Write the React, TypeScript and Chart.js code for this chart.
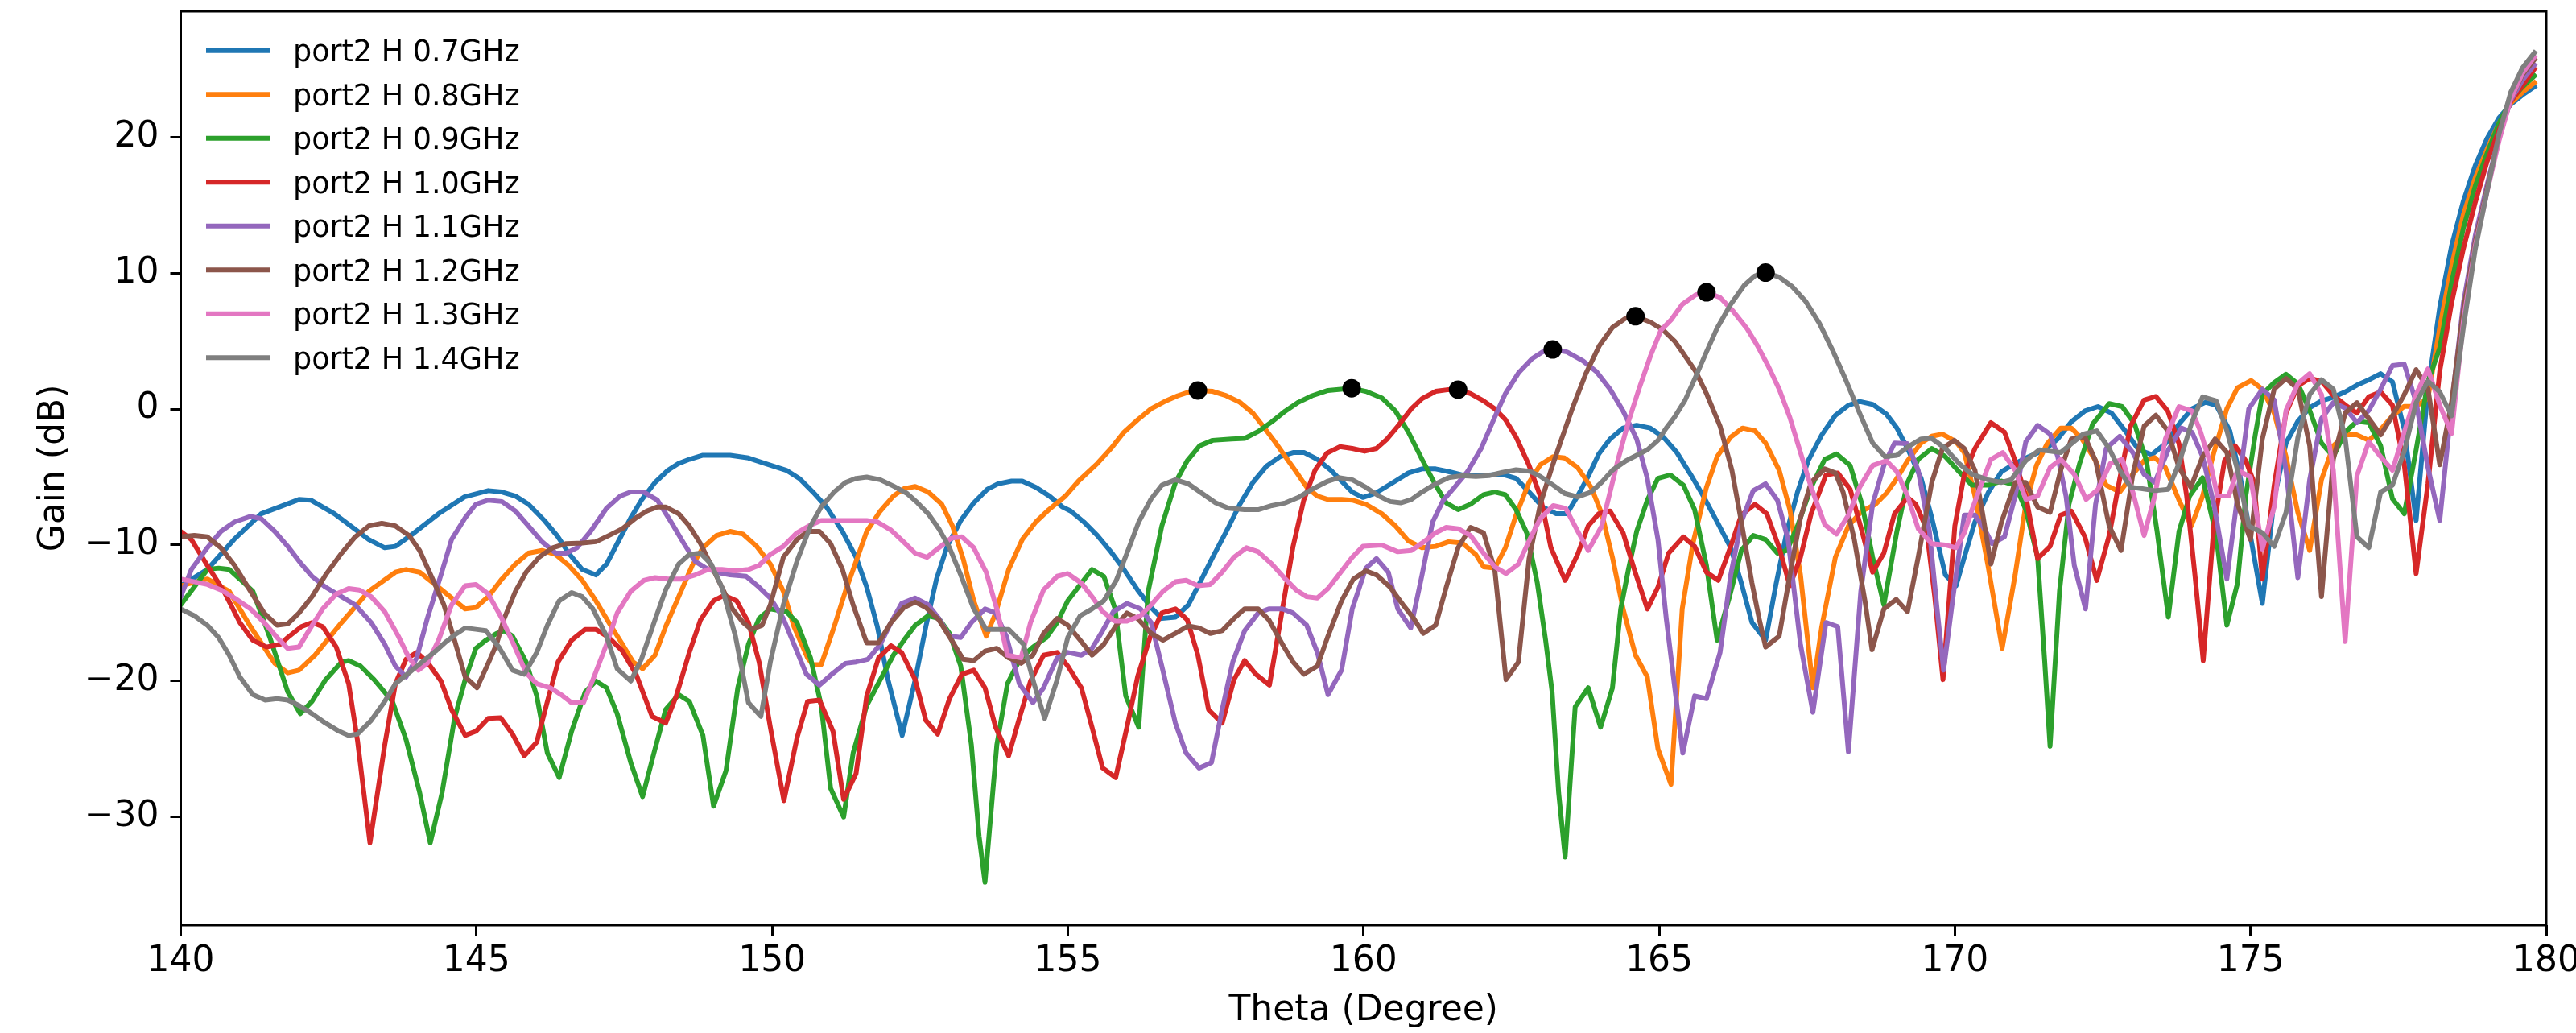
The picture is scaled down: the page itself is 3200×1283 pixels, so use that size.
import React, { useEffect, useRef } from 'react';
import { Chart, registerables } from 'chart.js';

Chart.register(...registerables);

const SERIES_LABELS = [
  'port2 H 0.7GHz', 'port2 H 0.8GHz', 'port2 H 0.9GHz', 'port2 H 1.0GHz',
  'port2 H 1.1GHz', 'port2 H 1.2GHz', 'port2 H 1.3GHz', 'port2 H 1.4GHz',
];
const COLORS = ['#1f77b4', '#ff7f0e', '#2ca02c', '#d62728', '#9467bd', '#8c564b', '#e377c2', '#7f7f7f'];
const X_TICKS = [140, 145, 150, 155, 160, 165, 170, 175, 180];
const Y_TICKS = [-30, -20, -10, 0, 10, 20];
const X_TITLE = 'Theta (Degree)';
const Y_TITLE = 'Gain (dB)';

// [theta (deg), gain (dB)]
const gain07: [number, number][] = [
  [140.0, -13.0], [140.45, -11.8], [140.9, -9.6], [141.36, -7.7], [142.0, -6.65], [142.2, -6.7], [142.6, -7.7],
  [143.18, -9.6], [143.45, -10.2], [143.63, -10.1], [143.95, -9.1], [144.36, -7.7], [144.8, -6.46], [145.2, -6.0],
  [145.43, -6.1], [145.66, -6.4], [145.88, -7.0], [146.15, -8.2], [146.38, -9.4], [146.56, -10.6], [146.79, -11.8],
  [147.02, -12.2], [147.2, -11.4], [147.38, -9.9], [147.61, -8.0], [147.79, -6.7], [148.02, -5.4], [148.24, -4.5],
  [148.42, -4.0], [148.6, -3.7], [148.83, -3.4], [149.01, -3.4], [149.29, -3.4], [149.6, -3.6], [149.88, -4.0],
  [150.24, -4.5], [150.46, -5.1], [150.69, -6.1], [150.92, -7.2], [151.19, -9.0], [151.42, -10.9], [151.6, -13.1],
  [151.78, -16.0], [151.96, -19.9], [152.2, -24.0], [152.42, -19.9], [152.6, -16.0], [152.78, -12.5], [152.96, -10.1],
  [153.19, -8.2], [153.41, -6.9], [153.64, -5.9], [153.82, -5.5], [154.05, -5.3], [154.23, -5.3], [154.46, -5.75],
  [154.69, -6.4], [154.91, -7.2], [155.05, -7.5], [155.27, -8.3], [155.5, -9.3], [155.73, -10.5], [155.95, -11.8],
  [156.18, -13.3], [156.41, -14.6], [156.59, -15.4], [156.82, -15.3], [157.04, -14.4], [157.23, -12.8], [157.45, -10.9],
  [157.68, -9.0], [157.91, -7.0], [158.13, -5.4], [158.36, -4.2], [158.59, -3.5], [158.81, -3.2], [159.0, -3.2],
  [159.22, -3.7], [159.45, -4.5], [159.63, -5.3], [159.81, -6.1], [159.99, -6.5], [160.2, -6.2], [160.54, -5.3],
  [160.76, -4.7], [160.99, -4.4], [161.22, -4.4], [161.44, -4.6], [161.67, -4.85], [161.9, -4.9], [162.12, -4.85],
  [162.35, -4.8], [162.58, -5.1], [162.8, -6.1], [163.03, -7.2], [163.26, -7.7], [163.44, -7.7], [163.62, -6.4],
  [163.8, -4.95], [163.98, -3.3], [164.17, -2.2], [164.39, -1.4], [164.62, -1.2], [164.85, -1.4], [165.07, -2.06],
  [165.3, -3.2], [165.53, -4.8], [165.76, -6.5], [165.98, -8.3], [166.21, -10.2], [166.39, -12.8], [166.57, -15.7],
  [166.8, -17.0], [166.98, -12.8], [167.16, -9.0], [167.34, -6.1], [167.52, -3.8], [167.75, -1.9], [167.98, -0.46],
  [168.2, 0.28], [168.39, 0.56], [168.61, 0.34], [168.84, -0.36], [169.02, -1.4], [169.2, -2.9], [169.43, -5.1],
  [169.61, -8.0], [169.84, -12.2], [170.02, -13.0], [170.16, -10.9], [170.34, -8.3], [170.57, -6.1], [170.79, -4.6],
  [171.02, -4.0], [171.25, -3.5], [171.52, -3.0], [171.74, -2.2], [171.97, -0.94], [172.2, -0.14], [172.42, 0.18],
  [172.65, -0.3], [172.88, -1.6], [173.11, -3.0], [173.33, -3.35], [173.56, -2.55], [173.79, -1.1], [174.01, 0.02],
  [174.24, 0.5], [174.42, 0.28], [174.65, -1.6], [174.83, -5.1], [175.01, -9.6], [175.2, -14.3], [175.4, -6.6],
  [175.6, -2.5], [175.8, -0.9], [176.0, 0.1], [176.2, 0.6], [176.4, 0.87], [176.6, 1.26], [176.8, 1.76],
  [177.0, 2.15], [177.2, 2.6], [177.4, 2.0], [177.6, -1.5], [177.8, -8.2], [178.0, 1.5], [178.2, 7.5],
  [178.4, 12.0], [178.6, 15.3], [178.8, 17.9], [179.0, 19.9], [179.2, 21.4], [179.4, 22.4], [179.6, 23.1], [179.8, 23.7],
];

const gain08: [number, number][] = [
  [140.0, -13.0], [140.45, -12.5], [140.82, -13.4], [141.18, -16.0], [141.59, -18.7], [141.81, -19.4], [142.0, -19.2],
  [142.27, -18.1], [142.72, -15.7], [143.18, -13.4], [143.63, -12.0], [143.81, -11.8], [144.04, -12.0], [144.36, -13.1],
  [144.81, -14.7], [144.99, -14.6], [145.2, -13.8], [145.43, -12.5], [145.66, -11.4], [145.88, -10.6], [146.11, -10.4],
  [146.34, -10.7], [146.56, -11.5], [146.79, -12.6], [147.02, -14.1], [147.24, -15.7], [147.47, -17.3], [147.65, -18.6],
  [147.81, -19.1], [148.02, -18.1], [148.2, -16.0], [148.42, -13.8], [148.65, -11.5], [148.83, -10.2], [149.06, -9.3],
  [149.29, -9.0], [149.51, -9.2], [149.74, -10.1], [149.97, -11.4], [150.19, -13.4], [150.37, -16.0], [150.6, -18.3],
  [150.69, -18.8], [150.83, -18.8], [151.05, -16.0], [151.24, -13.4], [151.42, -11.2], [151.6, -9.0], [151.83, -7.5],
  [152.05, -6.4], [152.23, -5.85], [152.42, -5.7], [152.64, -6.1], [152.87, -7.0], [153.05, -8.6], [153.23, -11.0],
  [153.41, -14.1], [153.62, -16.7], [153.78, -15.0], [154.0, -11.8], [154.23, -9.6], [154.46, -8.3], [154.68, -7.4],
  [154.96, -6.4], [155.18, -5.3], [155.5, -4.0], [155.73, -2.9], [155.95, -1.7], [156.18, -0.8], [156.41, 0.02],
  [156.64, 0.56], [156.86, 0.98], [157.04, 1.24], [157.2, 1.37], [157.45, 1.3], [157.68, 0.98], [157.91, 0.5],
  [158.13, -0.3], [158.31, -1.3], [158.5, -2.4], [158.68, -3.5], [158.86, -4.6], [159.04, -5.75], [159.22, -6.4],
  [159.4, -6.65], [159.63, -6.65], [159.81, -6.7], [160.04, -7.0], [160.31, -7.7], [160.54, -8.6], [160.76, -9.7],
  [160.99, -10.2], [161.22, -10.1], [161.44, -9.76], [161.67, -9.86], [161.9, -10.7], [162.03, -11.6], [162.22, -11.7],
  [162.4, -10.2], [162.58, -7.8], [162.8, -5.4], [162.99, -4.1], [163.21, -3.5], [163.4, -3.6], [163.62, -4.3],
  [163.85, -5.75], [164.03, -7.7], [164.21, -10.9], [164.39, -14.7], [164.6, -18.1], [164.8, -19.7], [164.98, -25.0],
  [165.2, -27.6], [165.39, -14.7], [165.57, -9.9], [165.8, -5.75], [165.98, -3.5], [166.21, -2.06], [166.41, -1.4],
  [166.62, -1.6], [166.8, -2.5], [167.03, -4.5], [167.21, -7.4], [167.39, -12.2], [167.6, -20.5], [167.75, -16.0],
  [167.98, -10.9], [168.2, -8.6], [168.43, -7.5], [168.66, -7.0], [168.84, -6.2], [169.02, -5.1], [169.2, -3.8],
  [169.43, -2.5], [169.61, -2.0], [169.79, -1.84], [170.02, -2.4], [170.16, -3.2], [170.34, -6.4], [170.56, -11.5],
  [170.8, -17.6], [171.02, -12.2], [171.2, -7.0], [171.38, -4.15], [171.56, -2.55], [171.79, -1.4], [171.97, -1.4],
  [172.15, -2.2], [172.38, -3.8], [172.56, -5.6], [172.79, -6.1], [173.01, -4.8], [173.2, -3.8], [173.38, -3.57],
  [173.56, -4.3], [173.79, -6.7], [174.0, -8.6], [174.19, -6.4], [174.38, -3.2], [174.6, 0.02], [174.78, 1.56],
  [175.01, 2.1], [175.2, 1.46], [175.4, -0.3], [175.6, -3.5], [175.8, -7.6], [176.0, -10.4], [176.2, -5.2],
  [176.4, -2.7], [176.6, -1.9], [176.8, -1.9], [177.0, -2.3], [177.2, -1.5], [177.4, -0.5], [177.6, 0.2],
  [177.8, 0.2], [178.0, 0.8], [178.2, 6.0], [178.4, 10.5], [178.6, 14.3], [178.8, 17.0], [179.0, 19.1],
  [179.2, 21.0], [179.4, 22.5], [179.6, 23.3], [179.8, 24.0],
];

const gain09: [number, number][] = [
  [140.0, -14.4], [140.45, -11.8], [140.64, -11.7], [140.82, -11.8], [141.0, -12.5], [141.22, -13.4], [141.5, -16.7],
  [141.81, -20.8], [142.02, -22.4], [142.22, -21.5], [142.45, -19.9], [142.72, -18.6], [142.84, -18.5], [143.04, -18.9],
  [143.27, -19.9], [143.58, -21.5], [143.81, -24.3], [144.04, -28.2], [144.22, -31.9], [144.42, -28.2], [144.63, -22.75],
  [144.81, -19.9], [144.99, -17.6], [145.16, -17.0], [145.34, -16.5], [145.47, -16.3], [145.61, -16.7], [145.84, -18.6],
  [146.02, -21.1], [146.2, -25.3], [146.4, -27.1], [146.61, -23.7], [146.84, -20.8], [147.02, -20.0], [147.2, -20.5],
  [147.38, -22.4], [147.61, -26.0], [147.81, -28.5], [148.02, -25.0], [148.2, -22.1], [148.42, -21.0], [148.6, -21.5],
  [148.83, -24.0], [149.01, -29.2], [149.22, -26.6], [149.42, -20.5], [149.6, -17.3], [149.78, -15.4], [149.97, -14.7],
  [150.24, -14.9], [150.42, -15.7], [150.65, -18.3], [150.83, -21.8], [150.99, -27.9], [151.21, -30.0], [151.37, -25.3],
  [151.6, -21.8], [151.83, -19.9], [152.05, -18.1], [152.23, -17.0], [152.42, -15.9], [152.64, -15.2], [152.82, -15.4],
  [153.0, -16.5], [153.19, -18.9], [153.37, -24.7], [153.5, -31.4], [153.6, -34.8], [153.8, -24.7], [153.98, -20.2],
  [154.19, -18.4], [154.41, -17.5], [154.64, -16.8], [154.82, -15.7], [155.0, -14.1], [155.23, -12.8], [155.41, -11.8],
  [155.61, -12.3], [155.8, -14.7], [155.98, -21.1], [156.2, -23.4], [156.36, -13.4], [156.59, -8.6], [156.82, -5.4],
  [157.02, -3.8], [157.23, -2.7], [157.45, -2.3], [157.77, -2.2], [157.99, -2.16], [158.22, -1.65], [158.45, -0.94],
  [158.68, -0.14], [158.9, 0.5], [159.13, 0.98], [159.4, 1.37], [159.8, 1.53], [160.04, 1.3], [160.31, 0.82],
  [160.54, -0.14], [160.76, -1.7], [160.99, -3.7], [161.22, -5.6], [161.4, -6.9], [161.6, -7.4], [161.81, -7.0],
  [162.03, -6.3], [162.22, -6.1], [162.4, -6.3], [162.58, -7.4], [162.76, -9.1], [162.94, -12.8], [163.08, -17.0],
  [163.19, -20.8], [163.3, -28.2], [163.41, -32.95], [163.58, -21.9], [163.8, -20.5], [164.01, -23.4], [164.21, -20.5],
  [164.35, -14.7], [164.48, -11.8], [164.62, -9.0], [164.8, -6.7], [164.98, -5.1], [165.19, -4.85], [165.41, -5.6],
  [165.6, -7.4], [165.8, -11.5], [165.98, -17.0], [166.19, -13.8], [166.39, -10.4], [166.59, -9.3], [166.8, -9.6],
  [167.0, -10.6], [167.16, -10.4], [167.34, -8.6], [167.57, -5.75], [167.8, -3.7], [168.0, -3.3], [168.23, -4.15],
  [168.43, -7.0], [168.61, -10.9], [168.8, -14.4], [169.02, -9.0], [169.2, -5.4], [169.38, -3.7], [169.61, -2.9],
  [169.84, -3.5], [170.07, -4.6], [170.29, -5.6], [170.56, -5.6], [170.79, -5.3], [171.02, -5.6], [171.2, -7.4],
  [171.4, -10.9], [171.52, -18.6], [171.61, -24.8], [171.77, -13.4], [171.93, -7.0], [172.11, -4.0], [172.33, -1.1],
  [172.61, 0.4], [172.83, 0.18], [173.04, -1.1], [173.24, -3.8], [173.42, -9.0], [173.61, -15.3], [173.79, -9.0],
  [173.97, -6.4], [174.19, -5.05], [174.42, -9.3], [174.6, -15.9], [174.78, -12.8], [174.92, -6.4], [175.08, -1.9],
  [175.2, 1.07], [175.4, 1.95], [175.6, 2.56], [175.8, 1.85], [176.0, -0.1], [176.2, -2.5], [176.4, -3.5],
  [176.6, -1.7], [176.8, -0.9], [177.0, -1.0], [177.2, -2.7], [177.4, -6.6], [177.6, -7.7], [177.8, -3.0],
  [178.0, 2.0], [178.2, 4.5], [178.4, 9.3], [178.6, 13.3], [178.8, 16.4], [179.0, 18.8], [179.2, 21.0],
  [179.4, 22.7], [179.6, 23.7], [179.8, 24.5],
];

const gain10: [number, number][] = [
  [140.0, -9.0], [140.18, -9.6], [140.45, -11.5], [140.73, -13.4], [141.0, -15.7], [141.22, -17.0], [141.45, -17.5],
  [141.68, -17.3], [141.81, -16.8], [142.04, -16.0], [142.22, -15.7], [142.4, -16.0], [142.63, -17.5], [142.84, -20.2],
  [142.99, -24.4], [143.2, -31.9], [143.45, -24.7], [143.63, -20.2], [143.81, -18.4], [143.99, -17.9], [144.17, -18.6],
  [144.4, -20.0], [144.58, -22.1], [144.81, -24.0], [144.99, -23.7], [145.2, -22.75], [145.41, -22.7], [145.61, -23.9],
  [145.81, -25.5], [146.02, -24.5], [146.2, -21.5], [146.38, -18.6], [146.61, -17.0], [146.84, -16.2], [147.02, -16.2],
  [147.24, -16.8], [147.47, -17.8], [147.7, -19.5], [147.97, -22.6], [148.2, -23.1], [148.38, -21.1], [148.6, -17.9],
  [148.79, -15.5], [149.01, -14.1], [149.19, -13.7], [149.4, -14.1], [149.6, -15.7], [149.78, -18.6], [149.97, -23.4],
  [150.2, -28.8], [150.42, -24.2], [150.6, -21.5], [150.8, -21.4], [151.03, -23.7], [151.21, -28.7], [151.42, -26.8],
  [151.6, -21.1], [151.8, -18.3], [152.01, -17.4], [152.19, -17.9], [152.42, -19.9], [152.6, -22.9], [152.8, -23.9],
  [153.0, -21.3], [153.21, -19.5], [153.41, -19.2], [153.6, -20.5], [153.78, -23.4], [154.0, -25.5], [154.18, -22.75],
  [154.37, -20.0], [154.59, -18.1], [154.82, -17.9], [155.0, -18.9], [155.23, -20.5], [155.41, -23.4], [155.59, -26.4],
  [155.81, -27.1], [156.0, -23.4], [156.18, -19.7], [156.39, -16.8], [156.59, -15.0], [156.82, -14.7], [157.02, -15.5],
  [157.2, -18.1], [157.38, -22.1], [157.61, -23.1], [157.81, -19.9], [157.99, -18.5], [158.18, -19.5], [158.41, -20.3],
  [158.63, -14.7], [158.81, -10.1], [158.99, -6.7], [159.18, -4.5], [159.38, -3.25], [159.6, -2.77], [159.81, -2.9],
  [160.02, -3.1], [160.22, -2.9], [160.4, -2.2], [160.58, -1.26], [160.81, 0.02], [160.99, 0.76], [161.22, 1.3],
  [161.44, 1.43], [161.6, 1.43], [161.81, 1.14], [162.03, 0.6], [162.22, 0.02], [162.4, -0.78], [162.58, -2.06],
  [162.8, -4.15], [162.99, -6.4], [163.17, -10.2], [163.41, -12.6], [163.62, -10.7], [163.8, -8.6], [163.98, -7.7],
  [164.17, -7.5], [164.39, -9.1], [164.58, -11.8], [164.8, -14.7], [164.98, -13.1], [165.16, -10.6], [165.41, -9.4],
  [165.6, -10.1], [165.8, -12.0], [166.0, -12.6], [166.21, -10.1], [166.39, -7.8], [166.62, -7.0], [166.82, -7.7],
  [167.03, -10.2], [167.21, -13.0], [167.39, -10.9], [167.57, -7.7], [167.82, -4.85], [168.02, -4.7], [168.23, -5.9],
  [168.43, -9.0], [168.61, -12.0], [168.8, -10.6], [168.98, -7.7], [169.2, -6.5], [169.34, -7.0], [169.52, -8.8],
  [169.66, -13.8], [169.8, -19.9], [170.0, -8.6], [170.16, -4.8], [170.34, -2.9], [170.61, -1.0], [170.84, -1.7],
  [171.02, -3.8], [171.2, -6.4], [171.4, -11.0], [171.61, -10.1], [171.79, -7.8], [171.97, -7.5], [172.2, -9.4],
  [172.4, -12.6], [172.61, -9.3], [172.79, -5.1], [172.97, -1.26], [173.2, 0.66], [173.4, 0.92], [173.6, -0.14],
  [173.79, -2.55], [173.92, -6.4], [174.06, -12.2], [174.2, -18.5], [174.38, -8.6], [174.56, -3.8], [174.74, -2.7],
  [174.92, -3.8], [175.06, -5.4], [175.2, -12.5], [175.4, -5.6], [175.6, -0.3], [175.8, 1.7], [176.0, 2.25],
  [176.2, 2.05], [176.4, 1.0], [176.6, 0.3], [176.8, -0.3], [177.0, 0.9], [177.2, 1.26], [177.4, 0.28],
  [177.6, -4.1], [177.8, -12.1], [178.0, -5.5], [178.2, 2.8], [178.4, 7.8], [178.6, 11.8], [178.8, 15.2],
  [179.0, 18.2], [179.2, 20.5], [179.4, 22.6], [179.6, 23.8], [179.8, 25.0],
];

const gain11: [number, number][] = [
  [140.0, -13.8], [140.18, -11.8], [140.45, -10.2], [140.68, -9.0], [140.91, -8.3], [141.18, -7.9], [141.36, -8.06],
  [141.59, -9.0], [141.81, -10.1], [142.04, -11.4], [142.22, -12.3], [142.45, -13.1], [142.72, -13.8], [142.95, -14.4],
  [143.22, -15.7], [143.45, -17.3], [143.63, -18.9], [143.81, -19.7], [143.99, -18.3], [144.17, -15.4], [144.4, -12.2],
  [144.58, -9.6], [144.81, -8.0], [144.99, -7.0], [145.2, -6.7], [145.43, -6.8], [145.66, -7.5], [145.88, -8.6],
  [146.11, -9.76], [146.34, -10.6], [146.52, -10.6], [146.7, -10.2], [146.93, -9.0], [147.2, -7.3], [147.43, -6.4],
  [147.61, -6.1], [147.83, -6.1], [148.06, -6.7], [148.29, -8.3], [148.51, -9.9], [148.7, -11.2], [148.88, -11.7],
  [149.06, -12.0], [149.29, -12.2], [149.56, -12.3], [149.78, -13.1], [149.97, -13.9], [150.19, -15.4], [150.37, -17.3],
  [150.58, -19.5], [150.8, -20.3], [151.01, -19.5], [151.24, -18.7], [151.42, -18.6], [151.62, -18.4], [151.83, -17.3],
  [152.01, -15.7], [152.19, -14.3], [152.42, -13.9], [152.64, -14.4], [152.82, -15.4], [153.0, -16.7], [153.19, -16.8],
  [153.37, -15.7], [153.6, -14.7], [153.78, -15.0], [153.96, -16.7], [154.18, -20.2], [154.41, -21.6], [154.59, -20.5],
  [154.82, -18.3], [155.0, -17.9], [155.23, -18.1], [155.41, -17.6], [155.59, -16.3], [155.77, -14.9], [156.0, -14.3],
  [156.23, -14.7], [156.41, -15.7], [156.59, -18.9], [156.82, -23.1], [157.0, -25.3], [157.22, -26.4], [157.43, -26.0],
  [157.61, -22.1], [157.79, -18.6], [157.99, -16.3], [158.22, -15.0], [158.4, -14.7], [158.63, -14.7], [158.81, -15.0],
  [159.04, -15.9], [159.22, -17.9], [159.4, -21.0], [159.63, -19.2], [159.81, -14.7], [160.04, -11.7], [160.22, -11.0],
  [160.42, -12.0], [160.58, -14.7], [160.8, -16.1], [160.99, -12.2], [161.17, -8.3], [161.35, -6.7], [161.54, -5.75],
  [161.76, -4.6], [161.99, -2.9], [162.22, -0.6], [162.4, 1.14], [162.62, 2.65], [162.85, 3.7], [163.03, 4.2],
  [163.2, 4.38], [163.44, 4.2], [163.71, 3.55], [163.94, 2.75], [164.17, 1.46], [164.39, -0.14], [164.62, -2.2],
  [164.8, -5.1], [164.98, -9.6], [165.12, -15.4], [165.4, -25.3], [165.6, -21.1], [165.8, -21.3], [166.03, -17.9],
  [166.21, -12.2], [166.39, -8.3], [166.59, -6.0], [166.8, -5.5], [167.0, -6.7], [167.18, -9.6], [167.39, -17.3],
  [167.6, -22.3], [167.82, -15.7], [168.02, -16.0], [168.2, -25.2], [168.41, -13.4], [168.61, -7.0], [168.8, -4.15],
  [168.98, -2.5], [169.2, -2.55], [169.38, -4.5], [169.57, -9.0], [169.7, -14.7], [169.81, -19.2], [169.97, -13.8],
  [170.16, -7.8], [170.34, -7.8], [170.52, -8.96], [170.63, -9.9], [170.84, -9.4], [171.02, -6.4], [171.2, -2.4],
  [171.4, -1.2], [171.61, -1.84], [171.74, -3.5], [171.88, -6.4], [172.02, -11.5], [172.21, -14.7], [172.38, -7.0],
  [172.56, -2.9], [172.79, -2.0], [173.01, -3.2], [173.2, -4.8], [173.38, -5.4], [173.61, -3.0], [173.83, -1.4],
  [174.01, -1.7], [174.19, -3.5], [174.38, -7.0], [174.6, -12.5], [174.78, -6.4], [174.97, 0.02], [175.2, 1.46],
  [175.4, 0.67], [175.6, -4.5], [175.8, -12.4], [176.0, -5.2], [176.2, -0.7], [176.4, 0.47], [176.6, 0.08],
  [176.8, -1.0], [177.0, -0.1], [177.2, 1.46], [177.4, 3.2], [177.6, 3.3], [177.8, 0.5], [178.0, -4.3],
  [178.2, -8.2], [178.4, 0.3], [178.6, 7.8], [178.8, 12.75], [179.0, 16.5], [179.2, 20.0], [179.4, 22.7],
  [179.6, 24.2], [179.8, 25.3],
];

const gain12: [number, number][] = [
  [140.0, -9.4], [140.23, -9.3], [140.45, -9.4], [140.68, -10.2], [140.91, -11.5], [141.18, -13.4], [141.41, -15.0],
  [141.63, -15.9], [141.81, -15.8], [142.0, -15.0], [142.22, -13.8], [142.45, -12.2], [142.72, -10.6], [142.95, -9.4],
  [143.18, -8.6], [143.4, -8.4], [143.63, -8.6], [143.86, -9.3], [144.04, -10.4], [144.26, -12.5], [144.45, -14.4],
  [144.63, -17.0], [144.81, -19.7], [145.01, -20.5], [145.2, -18.7], [145.34, -17.3], [145.47, -15.4], [145.66, -13.4],
  [145.84, -12.0], [146.06, -10.9], [146.29, -10.2], [146.52, -9.9], [146.79, -9.86], [147.02, -9.76], [147.24, -9.3],
  [147.47, -8.8], [147.7, -8.0], [147.88, -7.5], [148.06, -7.2], [148.2, -7.2], [148.42, -7.7], [148.6, -8.6],
  [148.79, -9.9], [148.97, -11.5], [149.15, -13.1], [149.33, -14.7], [149.51, -15.7], [149.65, -16.2], [149.83, -15.9],
  [149.97, -14.4], [150.19, -10.9], [150.42, -9.6], [150.6, -9.0], [150.8, -9.0], [150.99, -9.9], [151.19, -11.8],
  [151.37, -14.4], [151.6, -17.2], [151.8, -17.2], [152.01, -15.7], [152.23, -14.6], [152.42, -14.2], [152.6, -14.6],
  [152.82, -15.5], [153.05, -17.1], [153.23, -18.4], [153.41, -18.5], [153.6, -17.8], [153.8, -17.6], [154.0, -18.3],
  [154.21, -18.7], [154.41, -18.1], [154.59, -16.5], [154.82, -15.4], [155.0, -15.9], [155.23, -17.1], [155.41, -18.1],
  [155.61, -17.3], [155.82, -15.9], [156.0, -15.0], [156.18, -15.4], [156.41, -16.5], [156.61, -17.0], [156.82, -16.5],
  [157.04, -15.95], [157.22, -16.1], [157.41, -16.5], [157.61, -16.3], [157.81, -15.4], [157.99, -14.7], [158.22, -14.7],
  [158.4, -15.5], [158.63, -17.3], [158.81, -18.6], [158.99, -19.5], [159.22, -18.9], [159.4, -16.7], [159.63, -14.1],
  [159.83, -12.5], [160.04, -11.9], [160.22, -12.2], [160.45, -13.1], [160.67, -14.4], [160.85, -15.4], [161.01, -16.5],
  [161.22, -15.9], [161.4, -13.1], [161.6, -10.2], [161.81, -8.7], [162.03, -9.1], [162.22, -11.8], [162.41, -19.9],
  [162.62, -18.6], [162.8, -11.0], [162.99, -7.0], [163.17, -4.5], [163.35, -2.2], [163.53, 0.02], [163.76, 2.6],
  [163.99, 4.67], [164.21, 6.0], [164.44, 6.7], [164.6, 6.82], [164.85, 6.4], [165.07, 5.8], [165.26, 5.0],
  [165.39, 4.2], [165.62, 2.75], [165.8, 1.14], [166.03, -1.26], [166.23, -4.5], [166.39, -8.3], [166.57, -12.8],
  [166.69, -15.4], [166.8, -17.5], [167.03, -16.7], [167.21, -12.2], [167.39, -8.0], [167.57, -5.4], [167.8, -4.4],
  [167.98, -4.7], [168.11, -6.1], [168.3, -9.6], [168.48, -14.1], [168.6, -17.7], [168.8, -14.7], [169.01, -14.0],
  [169.2, -14.9], [169.38, -10.9], [169.61, -5.4], [169.79, -2.9], [169.99, -2.3], [170.16, -2.9], [170.34, -4.5],
  [170.47, -7.7], [170.61, -11.4], [170.79, -8.3], [171.02, -5.4], [171.2, -5.4], [171.4, -7.2], [171.61, -7.6],
  [171.79, -4.5], [171.97, -2.2], [172.2, -2.06], [172.38, -3.8], [172.61, -8.6], [172.81, -10.4], [173.01, -4.8],
  [173.2, -1.26], [173.4, -0.46], [173.6, -1.6], [173.79, -4.3], [173.99, -5.75], [174.19, -3.5], [174.4, -2.2],
  [174.6, -3.2], [174.78, -7.0], [175.0, -9.6], [175.2, -2.2], [175.4, 1.46], [175.6, 2.25], [175.8, 1.46],
  [176.0, -2.7], [176.2, -13.8], [176.4, -3.7], [176.6, -0.3], [176.8, 0.47], [177.0, -0.7], [177.2, -1.9],
  [177.4, -0.5], [177.6, 1.07], [177.8, 2.9], [178.0, 1.5], [178.2, -4.1], [178.4, 0.5], [178.6, 7.3],
  [178.8, 12.3], [179.0, 16.2], [179.2, 20.0], [179.4, 22.8], [179.6, 24.6], [179.8, 25.7],
];

const gain13: [number, number][] = [
  [140.0, -12.5], [140.45, -12.9], [140.68, -13.3], [140.91, -13.9], [141.18, -14.7], [141.41, -15.7], [141.63, -16.8],
  [141.81, -17.6], [142.0, -17.5], [142.18, -16.2], [142.4, -14.7], [142.63, -13.6], [142.84, -13.2], [143.02, -13.3],
  [143.22, -13.8], [143.45, -14.9], [143.68, -16.7], [143.86, -18.3], [144.02, -19.2], [144.17, -18.7], [144.36, -17.0],
  [144.58, -14.4], [144.81, -13.0], [144.99, -12.9], [145.2, -13.6], [145.43, -15.4], [145.66, -17.6], [145.84, -19.4],
  [146.02, -20.2], [146.25, -20.5], [146.43, -21.0], [146.61, -21.6], [146.81, -21.6], [146.97, -19.9], [147.2, -17.3],
  [147.38, -15.0], [147.61, -13.4], [147.83, -12.6], [148.02, -12.4], [148.24, -12.5], [148.47, -12.5], [148.7, -12.2],
  [148.92, -11.8], [149.15, -11.8], [149.38, -11.9], [149.6, -11.8], [149.78, -11.5], [149.97, -10.7], [150.19, -10.1],
  [150.42, -9.1], [150.62, -8.6], [150.83, -8.2], [151.05, -8.2], [151.37, -8.2], [151.6, -8.2], [151.78, -8.3],
  [152.01, -8.9], [152.23, -9.8], [152.42, -10.6], [152.62, -10.9], [152.82, -10.2], [153.03, -9.5], [153.21, -9.4],
  [153.41, -10.2], [153.62, -12.0], [153.8, -14.7], [153.98, -18.1], [154.21, -18.3], [154.37, -15.7], [154.59, -13.3],
  [154.82, -12.3], [155.0, -12.1], [155.23, -12.8], [155.41, -13.8], [155.59, -14.9], [155.8, -15.6], [156.0, -15.6],
  [156.23, -15.2], [156.41, -14.4], [156.61, -13.4], [156.82, -12.7], [157.0, -12.6], [157.2, -13.0], [157.41, -12.9],
  [157.61, -12.0], [157.81, -10.9], [158.02, -10.2], [158.22, -10.5], [158.45, -11.4], [158.68, -12.5], [158.86, -13.3],
  [159.04, -13.8], [159.22, -13.9], [159.4, -13.2], [159.58, -12.2], [159.81, -10.9], [159.99, -10.1], [160.31, -10.0],
  [160.58, -10.5], [160.81, -10.4], [160.99, -9.86], [161.22, -9.1], [161.4, -8.7], [161.6, -8.8], [161.81, -9.3],
  [162.03, -10.6], [162.22, -11.6], [162.41, -12.1], [162.62, -11.4], [162.81, -9.6], [162.99, -8.06], [163.21, -7.1],
  [163.42, -7.3], [163.62, -8.96], [163.8, -10.4], [164.03, -8.6], [164.17, -6.1], [164.3, -3.8], [164.48, -0.94],
  [164.67, 1.62], [164.85, 3.87], [165.03, 5.8], [165.21, 6.6], [165.39, 7.7], [165.62, 8.4], [165.8, 8.58],
  [166.03, 8.2], [166.25, 7.2], [166.48, 5.95], [166.66, 4.67], [166.84, 3.2], [167.03, 1.46], [167.21, -0.62],
  [167.39, -3.2], [167.57, -5.75], [167.8, -8.5], [168.0, -9.2], [168.2, -7.8], [168.39, -5.75], [168.61, -4.15],
  [168.84, -3.8], [169.02, -4.6], [169.2, -6.4], [169.38, -8.8], [169.61, -9.9], [169.84, -10.0], [170.02, -10.2],
  [170.16, -9.1], [170.29, -7.4], [170.43, -5.75], [170.61, -3.7], [170.81, -3.2], [171.02, -4.5], [171.2, -6.65],
  [171.4, -6.4], [171.61, -4.3], [171.79, -3.7], [172.02, -4.8], [172.22, -6.65], [172.42, -5.9], [172.63, -4.0],
  [172.83, -3.7], [173.01, -6.1], [173.2, -9.3], [173.38, -6.4], [173.56, -2.2], [173.79, 0.18], [174.01, -0.14],
  [174.15, -1.6], [174.33, -4.15], [174.44, -6.4], [174.63, -6.4], [174.78, -4.5], [175.0, -5.0], [175.2, -10.3],
  [175.4, -7.2], [175.6, -0.1], [175.8, 1.86], [176.0, 2.6], [176.2, 1.07], [176.4, -4.5], [176.6, -17.1],
  [176.8, -4.9], [177.0, -2.4], [177.2, -3.5], [177.4, -4.5], [177.6, -1.7], [177.8, 1.07], [178.0, 2.95],
  [178.2, 0.28], [178.4, -1.8], [178.6, 6.5], [178.8, 12.0], [179.0, 16.0], [179.2, 19.7], [179.4, 22.8],
  [179.6, 24.7], [179.8, 25.9],
];

const gain14: [number, number][] = [
  [140.0, -14.7], [140.23, -15.2], [140.45, -15.9], [140.64, -16.8], [140.82, -18.1], [141.0, -19.7], [141.22, -21.0],
  [141.43, -21.4], [141.63, -21.3], [141.81, -21.4], [142.0, -21.8], [142.22, -22.4], [142.45, -23.1], [142.68, -23.7],
  [142.84, -24.0], [142.99, -23.9], [143.22, -22.9], [143.45, -21.5], [143.63, -20.2], [143.86, -19.4], [144.08, -18.6],
  [144.31, -17.8], [144.49, -17.1], [144.67, -16.5], [144.81, -16.1], [144.99, -16.2], [145.16, -16.3], [145.38, -17.5],
  [145.61, -19.2], [145.81, -19.5], [146.02, -17.9], [146.2, -15.9], [146.4, -14.1], [146.61, -13.5], [146.79, -13.8],
  [146.97, -14.7], [147.2, -16.7], [147.38, -19.1], [147.61, -20.0], [147.79, -18.4], [148.02, -15.5], [148.2, -13.3],
  [148.42, -11.4], [148.6, -10.7], [148.79, -10.6], [148.97, -11.4], [149.15, -13.1], [149.38, -16.7], [149.6, -21.6],
  [149.81, -22.6], [149.97, -18.6], [150.19, -14.4], [150.42, -11.2], [150.65, -8.6], [150.83, -7.2], [151.05, -6.1],
  [151.24, -5.4], [151.42, -5.1], [151.6, -5.0], [151.83, -5.2], [152.05, -5.66], [152.28, -6.2], [152.46, -6.9],
  [152.64, -7.7], [152.82, -8.8], [153.0, -10.2], [153.19, -12.2], [153.41, -14.7], [153.62, -16.2], [153.82, -16.2],
  [154.0, -16.2], [154.25, -17.3], [154.43, -20.2], [154.61, -22.75], [154.82, -19.9], [155.0, -16.8], [155.21, -15.2],
  [155.41, -14.7], [155.61, -14.1], [155.82, -12.6], [156.0, -10.6], [156.2, -8.3], [156.41, -6.6], [156.59, -5.6],
  [156.82, -5.2], [157.04, -5.5], [157.27, -6.2], [157.5, -6.9], [157.72, -7.3], [157.99, -7.4], [158.22, -7.4],
  [158.45, -7.1], [158.68, -6.9], [158.9, -6.5], [159.13, -5.9], [159.4, -5.3], [159.58, -5.05], [159.81, -5.2],
  [160.04, -5.75], [160.26, -6.4], [160.45, -6.8], [160.63, -6.9], [160.81, -6.65], [160.99, -6.1], [161.22, -5.5],
  [161.44, -5.05], [161.67, -4.9], [161.9, -4.95], [162.12, -4.9], [162.35, -4.66], [162.58, -4.47], [162.81, -4.57],
  [162.99, -4.95], [163.21, -5.6], [163.4, -6.2], [163.62, -6.46], [163.85, -6.1], [164.03, -5.37], [164.21, -4.5],
  [164.44, -3.8], [164.62, -3.4], [164.8, -3.0], [164.98, -2.3], [165.12, -1.4], [165.26, -0.6], [165.44, 0.66],
  [165.62, 2.4], [165.8, 4.2], [165.98, 5.95], [166.21, 7.7], [166.44, 9.1], [166.62, 9.8], [166.8, 10.03],
  [167.03, 9.7], [167.25, 9.0], [167.48, 7.9], [167.71, 6.3], [167.93, 4.35], [168.16, 2.1], [168.39, -0.3],
  [168.61, -2.5], [168.82, -3.5], [169.02, -3.4], [169.2, -2.8], [169.43, -2.2], [169.61, -2.16], [169.84, -2.9],
  [170.07, -4.0], [170.29, -4.8], [170.56, -5.2], [170.79, -5.4], [170.95, -5.2], [171.2, -3.8], [171.43, -3.0],
  [171.61, -3.1], [171.79, -3.2], [171.97, -2.55], [172.17, -1.84], [172.4, -1.6], [172.61, -2.9], [172.79, -4.5],
  [172.97, -5.75], [173.15, -5.85], [173.38, -6.0], [173.61, -5.9], [173.79, -4.0], [174.01, -0.94], [174.19, 0.9],
  [174.42, 0.6], [174.6, -1.6], [174.78, -4.5], [174.97, -8.6], [175.2, -9.1], [175.4, -10.1], [175.6, -7.6],
  [175.8, -2.1], [176.0, 1.07], [176.2, 2.15], [176.4, 1.46], [176.6, -2.1], [176.8, -9.4], [177.0, -10.2],
  [177.2, -6.1], [177.4, -5.6], [177.6, -3.1], [177.8, 0.47], [178.0, 2.05], [178.2, 1.26], [178.4, -0.5],
  [178.6, 6.0], [178.8, 11.75], [179.0, 16.0], [179.2, 20.2], [179.4, 23.3], [179.6, 25.1], [179.8, 26.2],
];

const SERIES = [gain07, gain08, gain09, gain10, gain11, gain12, gain13, gain14];

// peak markers (black dots)
const PEAK_THETA = [157.2, 159.8, 161.6, 163.2, 164.6, 165.8, 166.8];
const PEAK_GAIN = [1.37, 1.53, 1.43, 4.38, 6.82, 8.58, 10.03];

const FONT_FAMILY = "'DejaVu Sans', 'Liberation Sans', sans-serif";

const framePlugin = {
  id: 'frame',
  afterDraw(chart: any) {
    const { ctx, chartArea } = chart;
    ctx.save();
    ctx.strokeStyle = '#000';
    ctx.lineWidth = 3;
    ctx.strokeRect(chartArea.left, chartArea.top, chartArea.right - chartArea.left, chartArea.bottom - chartArea.top);
    ctx.restore();
  },
};

const legendPlugin = {
  id: 'insideLegend',
  afterDatasetsDraw(chart: any) {
    const { ctx } = chart;
    ctx.save();
    ctx.font = `36.5px ${FONT_FAMILY}`;
    ctx.textBaseline = 'alphabetic';
    ctx.textAlign = 'left';
    SERIES_LABELS.forEach((label, i) => {
      const y = 62.7 + i * 54.5;
      ctx.strokeStyle = COLORS[i];
      ctx.lineWidth = 6;
      ctx.lineCap = 'butt';
      ctx.beginPath();
      ctx.moveTo(256, y);
      ctx.lineTo(336, y);
      ctx.stroke();
      ctx.fillStyle = '#000';
      ctx.fillText(label, 364, y + 13.5);
    });
    ctx.restore();
  },
};

export default function App() {
  const canvasRef = useRef<HTMLCanvasElement | null>(null);

  useEffect(() => {
    const canvas = canvasRef.current;
    if (!canvas) return;
    const tickFont = { family: FONT_FAMILY, size: 44 };
    const lineSets = SERIES.map((s, i) => ({
      type: 'line' as const,
      label: SERIES_LABELS[i],
      data: s.map(([x, y]) => ({ x, y })),
      borderColor: COLORS[i],
      backgroundColor: COLORS[i],
      borderWidth: 6,
      pointRadius: 0,
      pointHoverRadius: 0,
      tension: 0,
      fill: false,
      borderJoinStyle: 'round' as const,
      borderCapStyle: 'square' as const,
      order: 8 - i,
    }));
    const peakSet = {
      type: 'line' as const,
      label: 'peaks',
      data: PEAK_THETA.map((x, i) => ({ x, y: PEAK_GAIN[i] })),
      showLine: false,
      pointRadius: 11.5,
      pointHoverRadius: 11.5,
      pointBackgroundColor: '#000',
      pointBorderColor: '#000',
      pointBorderWidth: 0,
      borderColor: '#000',
      backgroundColor: '#000',
      order: 0,
    };
    const chart = new Chart(canvas, {
      type: 'line',
      data: { datasets: [...lineSets, peakSet] as any },
      options: {
        responsive: false,
        maintainAspectRatio: false,
        animation: false,
        devicePixelRatio: 1,
        events: [],
        layout: { padding: { left: 0, top: 14, right: 37, bottom: 0 } },
        plugins: { legend: { display: false }, tooltip: { enabled: false } },
        scales: {
          x: {
            type: 'linear',
            min: 140,
            max: 180,
            afterBuildTicks: (scale: any) => {
              scale.ticks = X_TICKS.map((v) => ({ value: v }));
            },
            afterFit: (scale: any) => {
              scale.height = 134;
              scale.paddingLeft = 0;
              scale.paddingRight = 0;
            },
            ticks: {
              font: tickFont,
              color: '#000',
              padding: 6,
              maxRotation: 0,
              autoSkip: false,
              callback: (v: any) => String(v),
            },
            grid: {
              display: true,
              drawOnChartArea: false,
              drawTicks: true,
              tickLength: 13,
              tickWidth: 3,
              tickColor: '#000',
            },
            border: { display: false },
            title: {
              display: true,
              text: X_TITLE,
              font: tickFont,
              color: '#000',
              padding: { top: 0, bottom: 1 },
            },
          },
          y: {
            type: 'linear',
            min: -37.95,
            max: 29.25,
            afterBuildTicks: (scale: any) => {
              scale.ticks = Y_TICKS.map((v) => ({ value: v }));
            },
            afterFit: (scale: any) => {
              scale.width = 224.5;
              scale.paddingTop = 0;
              scale.paddingBottom = 0;
            },
            ticks: {
              font: tickFont,
              color: '#000',
              padding: 14,
              autoSkip: false,
              callback: (v: any) => (Number(v) < 0 ? '\u2212' + Math.abs(Number(v)) : String(v)),
            },
            grid: {
              display: true,
              drawOnChartArea: false,
              drawTicks: true,
              tickLength: 13,
              tickWidth: 3,
              tickColor: '#000',
            },
            border: { display: false },
            title: {
              display: true,
              text: Y_TITLE,
              font: tickFont,
              color: '#000',
              padding: { top: 41, bottom: 0 },
            },
          },
        },
      } as any,
      plugins: [framePlugin, legendPlugin],
    });
    return () => chart.destroy();
  }, []);

  return (
    <div style={{ position: 'fixed', left: 0, top: 0, width: 3200, height: 1283, background: '#fff' }}>
      <canvas ref={canvasRef} width={3200} height={1283} style={{ width: 3200, height: 1283, display: 'block' }} />
    </div>
  );
}
